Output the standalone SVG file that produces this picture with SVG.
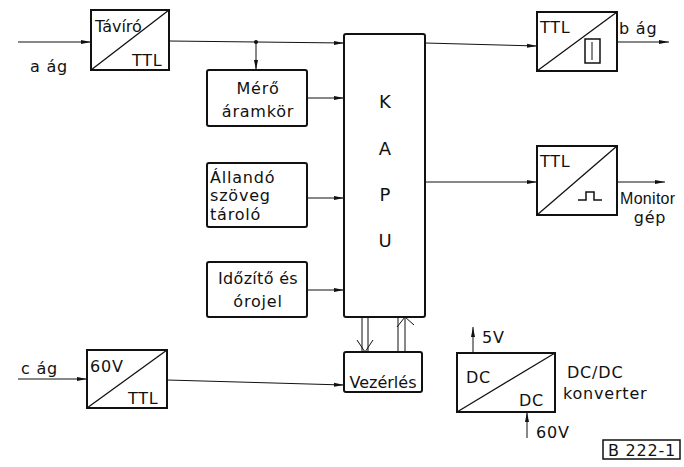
<svg xmlns="http://www.w3.org/2000/svg" width="684" height="467" viewBox="0 0 684 467">
<defs>
<marker id="ah" markerWidth="10" markerHeight="6" refX="10" refY="3" orient="auto" markerUnits="userSpaceOnUse">
<path d="M0,1 L10,3 L0,5 Z" fill="#111"/>
</marker>
</defs>
<style>
.box{fill:#fff;stroke:#111;stroke-width:2}
.diag{stroke:#111;stroke-width:1.3;fill:none}
.ln{stroke:#111;stroke-width:1;fill:none}
.t{font-family:"DejaVu Sans","Liberation Sans",sans-serif;font-size:16px;letter-spacing:0.8px;fill:#111}
.big{font-family:"DejaVu Sans","Liberation Sans",sans-serif;font-size:18px;fill:#111}
</style>
<rect width="684" height="467" fill="#fff"/>
<g id="connectors">
<line class="ln" x1="18" y1="42" x2="91" y2="42" marker-end="url(#ah)"/>
<line class="ln" x1="169" y1="41" x2="344" y2="43" marker-end="url(#ah)"/>
<circle cx="256" cy="42" r="2" fill="#111"/>
<line class="ln" x1="256" y1="42" x2="256" y2="70" marker-end="url(#ah)"/>
<line class="ln" x1="307" y1="98" x2="344" y2="98" marker-end="url(#ah)"/>
<line class="ln" x1="307" y1="198" x2="344" y2="198" marker-end="url(#ah)"/>
<line class="ln" x1="307" y1="290" x2="344" y2="290" marker-end="url(#ah)"/>
<line class="ln" x1="425" y1="43" x2="537" y2="46" marker-end="url(#ah)"/>
<line class="ln" x1="617" y1="42" x2="669" y2="42" marker-end="url(#ah)"/>
<line class="ln" x1="425" y1="182" x2="537" y2="182" marker-end="url(#ah)"/>
<line class="ln" x1="617" y1="182" x2="665" y2="182" marker-end="url(#ah)"/>
<line class="ln" x1="18" y1="379" x2="87" y2="379" marker-end="url(#ah)"/>
<line class="ln" x1="167" y1="380" x2="344" y2="385" marker-end="url(#ah)"/>
<line class="ln" x1="362" y1="318" x2="362" y2="351"/>
<line class="ln" x1="368" y1="318" x2="368" y2="351"/>
<path class="ln" d="M357,340 L365,352 L373,340"/>
<line class="ln" x1="398" y1="351" x2="398" y2="318"/>
<line class="ln" x1="405" y1="351" x2="405" y2="318"/>
<path class="ln" d="M397,327 L405,317 L414,325"/>
<line class="ln" x1="473" y1="353" x2="473" y2="327" marker-end="url(#ah)"/>
<line class="ln" x1="527" y1="438" x2="527" y2="412" marker-end="url(#ah)"/>
</g>
<g id="taviro">
<rect class="box" x="91" y="10" width="78" height="60"/>
<line class="diag" x1="91" y1="70" x2="169" y2="10"/>
<text class="t" x="95" y="32" style="letter-spacing:0">Távíró</text>
<text class="t" x="132" y="66">TTL</text>
<text class="t" x="30" y="72">a ág</text>
</g>
<g id="mero">
<rect class="box" x="207" y="70" width="100" height="56" rx="2"/>
<text class="t" x="258" y="94" text-anchor="middle">Mérő</text>
<text class="t" x="258" y="117" text-anchor="middle">áramkör</text>
</g>
<g id="allando">
<rect class="box" x="207" y="163" width="100" height="64" rx="2"/>
<text class="t" x="210" y="183">Állandó</text>
<text class="t" x="210" y="201">szöveg</text>
<text class="t" x="210" y="220">tároló</text>
</g>
<g id="idozito">
<rect class="box" x="207" y="262" width="100" height="55" rx="2"/>
<text class="t" x="258" y="284" text-anchor="middle" style="letter-spacing:0.3px">Időzítő és</text>
<text class="t" x="258" y="307" text-anchor="middle">órojel</text>
</g>
<g id="kapu">
<rect class="box" x="344" y="34" width="81" height="283" rx="2"/>
<text class="big" x="385" y="108" text-anchor="middle">K</text>
<text class="big" x="385" y="155" text-anchor="middle">A</text>
<text class="big" x="385" y="201" text-anchor="middle">P</text>
<text class="big" x="385" y="247" text-anchor="middle">U</text>
</g>
<g id="ttl-b">
<rect class="box" x="537" y="12" width="80" height="59"/>
<line class="diag" x1="537" y1="71" x2="617" y2="12"/>
<text class="t" x="540" y="33">TTL</text>
<rect x="585" y="39" width="15" height="24" fill="none" stroke="#111" stroke-width="1.5"/>
<line x1="592" y1="42" x2="592" y2="60" stroke="#111" stroke-width="1"/>
<text class="t" x="619" y="34">b ág</text>
</g>
<g id="ttl-monitor">
<rect class="box" x="537" y="146" width="80" height="69"/>
<line class="diag" x1="537" y1="215" x2="617" y2="146"/>
<text class="t" x="540" y="167">TTL</text>
<path d="M578,200 L586,200 L586,192 L594,192 L594,200 L602,200" fill="none" stroke="#111" stroke-width="1.5"/>
<text class="t" x="620" y="204" style="font-family:'Liberation Sans',sans-serif;font-size:16px;letter-spacing:0.3px">Monitor</text>
<text class="t" x="650" y="223" text-anchor="middle">gép</text>
</g>
<g id="c60v">
<rect class="box" x="87" y="350" width="80" height="58"/>
<line class="diag" x1="87" y1="408" x2="167" y2="350"/>
<text class="t" x="90" y="372">60V</text>
<text class="t" x="128" y="404">TTL</text>
<text class="t" x="21" y="374">c ág</text>
</g>
<g id="vezerles">
<rect class="box" x="344" y="352" width="78" height="40" rx="2"/>
<text class="t" x="383" y="388" text-anchor="middle" style="letter-spacing:0">Vezérlés</text>
</g>
<g id="dcdc">
<rect class="box" x="457" y="353" width="98" height="59"/>
<line class="diag" x1="457" y1="412" x2="555" y2="353"/>
<text class="t" x="466" y="383">DC</text>
<text class="t" x="519" y="406">DC</text>
<text class="t" x="482" y="343">5V</text>
<text class="t" x="536" y="438">60V</text>
<text class="t" x="567" y="378">DC/DC</text>
<text class="t" x="563" y="399">konverter</text>
</g>
<g id="label">
<rect x="603" y="440" width="77" height="19" fill="none" stroke="#111" stroke-width="1.5"/>
<text class="t" x="642" y="456" text-anchor="middle">B 222-1</text>
</g>
</svg>
